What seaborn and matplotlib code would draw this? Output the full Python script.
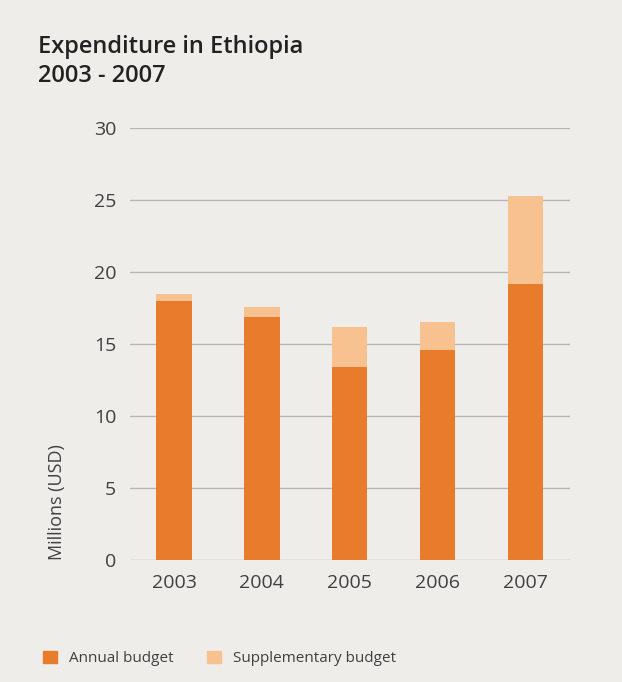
import pandas as pd
import matplotlib.pyplot as plt
import seaborn as sns
from matplotlib.patches import Patch

# valores (millones USD)
years = ['2003', '2004', '2005', '2006', '2007']
annual = [18.0, 16.9, 13.4, 14.6, 19.2]
supplementary = [0.5, 0.7, 2.8, 1.9, 6.1]

df = pd.DataFrame({'Year': years, 'Annual': annual, 'Supplementary': supplementary})
df['Total'] = df['Annual'] + df['Supplementary']

bg = '#EEEDEA'
c_annual = '#E97B2C'
c_supp = '#F7C190'
txt = '#404040'

sns.set_theme(style='white')
plt.rcParams['font.family'] = ['Open Sans', 'DejaVu Sans']

fig = plt.figure(figsize=(6.22, 6.82), dpi=100, facecolor=bg)
ax = fig.add_axes([0.209, 0.179, 0.707, 0.633])
ax.set_facecolor(bg)

sns.barplot(data=df, x='Year', y='Total', color=c_supp, width=0.4,
            saturation=1, linewidth=0, ax=ax, zorder=3)
sns.barplot(data=df, x='Year', y='Annual', color=c_annual, width=0.4,
            saturation=1, linewidth=0, ax=ax, zorder=4)

ax.set_ylim(0, 30)
ax.set_xlim(-0.5, 4.5)
ax.set_yticks(range(0, 31, 5))
ax.yaxis.grid(True, color='#B8B6B1', linewidth=1)
ax.set_axisbelow(True)
for s in ax.spines.values():
    s.set_visible(False)
ax.tick_params(axis='both', length=0, labelsize=14, colors=txt, pad=10)
ax.set_xlabel('')
ax.set_ylabel('Millions (USD)', fontsize=13, color=txt, labelpad=20, loc='bottom')

fig.text(0.061, 0.948, 'Expenditure in Ethiopia\n2003 - 2007', fontsize=17,
         fontweight='semibold', color='#222222', va='top', linespacing=1.25)

handles = [Patch(color=c_annual, label='Annual budget'),
           Patch(color=c_supp, label='Supplementary budget')]
fig.legend(handles=handles, loc='lower left', bbox_to_anchor=(0.047, 0.003),
           ncol=2, frameon=False, fontsize=11, handlelength=0.9,
           handleheight=0.9, columnspacing=2.2, labelcolor=txt)

fig.savefig('out.png', dpi=100, facecolor=bg)
